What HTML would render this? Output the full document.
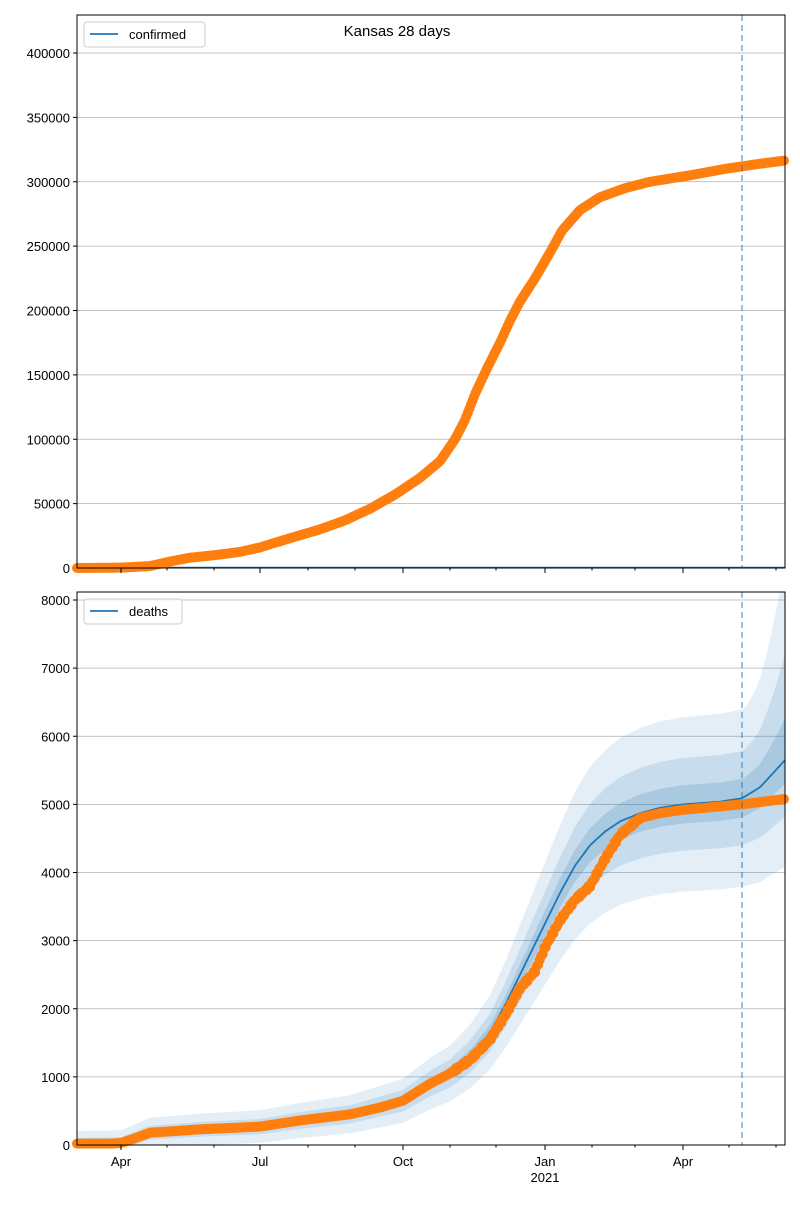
<!DOCTYPE html>
<html><head><meta charset="utf-8"><style>
body{margin:0;background:#fff;}
svg text{font-family:"Liberation Sans","DejaVu Sans",sans-serif;}
</style></head><body>
<svg id="s" width="800" height="1200" xmlns="http://www.w3.org/2000/svg"></svg>
<script>
const S=document.getElementById('s');let h='';
const X0=77,X1=785;
const T0=15,TB=568,B0=592,BB=1145;
const ty=v=>568-v*515/400000;
const by=v=>1145-v*0.068125;
function interp(pts,x){for(let i=1;i<pts.length;i++){if(x<=pts[i][0]){const a=pts[i-1],b=pts[i];const t=(x-a[0])/(b[0]-a[0]);return a[1]+t*(b[1]-a[1]);}}return pts[pts.length-1][1];}
const conf=[[77,0],[121,300],[150,1500],[170,5000],[190,8000],[215,10000],[240,12500],[260,16000],[285,22000],[320,30000],[345,37000],[370,46000],[395,57000],[420,70000],[440,83000],[455,100000],[465,115000],[475,135000],[487,155000],[500,175000],[510,192000],[520,207000],[535,225000],[550,245000],[562,262000],[580,278000],[600,288000],[625,295000],[650,300000],[690,305000],[725,310000],[760,314000],[785,316500]];
const dth=[[77,20],[110,20],[121,30],[135,100],[150,180],[200,230],[260,270],[300,360],[350,450],[380,550],[403,650],[430,900],[450,1050],[470,1250],[490,1550],[505,1900],[520,2300],[535,2550],[545,2900],[560,3300],[575,3600],[590,3800],[605,4200],[620,4550],[640,4800],[660,4870],[683,4920],[742,5000],[785,5080]];
const mdl=[[77,20],[121,30],[150,180],[200,230],[260,270],[300,360],[350,450],[403,650],[430,900],[450,1050],[470,1300],[490,1650],[505,2050],[520,2500],[535,2950],[545,3250],[560,3700],[575,4100],[590,4400],[605,4600],[620,4750],[640,4870],[660,4950],[683,5000],[720,5040],[742,5090],[760,5250],[785,5650]];
for(let v=0;v<=400000;v+=50000){const y=ty(v);h+=`<line x1="${X0}" x2="${X1}" y1="${y}" y2="${y}" stroke="#b0b0b0" stroke-width="0.8"/><line x1="${X0-4}" x2="${X0}" y1="${y}" y2="${y}" stroke="#000"/><text x="${X0-7}" y="${y+5}" font-size="13" text-anchor="end">${v}</text>`;}
for(let v=0;v<=8000;v+=1000){const y=by(v);h+=`<line x1="${X0}" x2="${X1}" y1="${y}" y2="${y}" stroke="#b0b0b0" stroke-width="0.8"/><line x1="${X0-4}" x2="${X0}" y1="${y}" y2="${y}" stroke="#000"/><text x="${X0-7}" y="${y+5}" font-size="13" text-anchor="end">${v}</text>`;}
function band(k,c,grow,col,op){let top=[],bot=[];for(let x=X0;x<=X1;x+=2){const v=interp(mdl,x);let w=k*v+c;let up=w,dn=w;if(x>742){const g=(x-742)/43;up=w+grow*g*g;dn=w*(1+g*0.1);}top.push(`${x},${by(v+up)}`);bot.unshift(`${x},${by(Math.max(0,v-dn))}`);}
h+=`<polygon points="${top.join(' ')} ${bot.join(' ')}" fill="${col}" fill-opacity="${op}"/>`;}
h+=`<clipPath id="c"><rect x="${X0}" y="${B0}" width="${X1-X0}" height="${BB-B0}"/></clipPath><g clip-path="url(#c)">`;
band(0.22,180,1500,'#1f77b4',0.12);band(0.12,80,800,'#1f77b4',0.15);band(0.05,30,300,'#1f77b4',0.18);
let p=[];for(let x=X0;x<=X1;x+=2)p.push(`${x},${by(interp(mdl,x))}`);
h+=`<polyline points="${p.join(' ')}" fill="none" stroke="#1f77b4" stroke-width="1.8"/></g>`;
h+=`<line x1="${X0}" x2="${X1}" y1="567.5" y2="567.5" stroke="#1f77b4" stroke-width="1.5"/>`;
for(let x=X0;x<=X1+0.1;x+=1.527){h+=`<circle cx="${x}" cy="${ty(interp(conf,x))}" r="5" fill="#ff7f0e"/><circle cx="${x}" cy="${by(interp(dth,x)+(Math.sin(x*1.7)*20*(x>450&&x<640?1:0)))}" r="5" fill="#ff7f0e"/>`;}
for(const [a,b] of [[T0,TB],[B0,BB]])h+=`<line x1="742" x2="742" y1="${a}" y2="${b}" stroke="#1f77b4" stroke-opacity="0.6" stroke-width="1.5" stroke-dasharray="6,4"/>`;
for(const [a,b] of [[T0,TB],[B0,BB]]){h+=`<rect x="${X0}" y="${a}" width="${X1-X0}" height="${b-a}" fill="none" stroke="#000" stroke-width="1"/>`;}
const maj={121:'Apr',260:'Jul',403:'Oct',545:'Jan',683:'Apr'};
const mon=[121,167,214,260,308,355,403,450,496,545,592,635,683,729,776];
for(const [a,b] of [[T0,TB],[B0,BB]]){for(const m of mon){const L=maj[m]?5:2.5;h+=`<line x1="${m}" x2="${m}" y1="${b}" y2="${b+L}" stroke="#000"/>`;}}
for(const m in maj)h+=`<text x="${m}" y="1166" font-size="13" text-anchor="middle">${maj[m]}</text>`;
h+=`<text x="545" y="1182" font-size="13" text-anchor="middle">2021</text>`;
h+=`<text x="397" y="36" font-size="15" text-anchor="middle">Kansas 28 days</text>`;
h+=`<rect x="84" y="22" width="121" height="25" rx="3" fill="#fff" fill-opacity="0.8" stroke="#ccc"/><line x1="90" x2="118" y1="34" y2="34" stroke="#1f77b4" stroke-width="1.8"/><text x="129" y="39" font-size="13">confirmed</text>`;
h+=`<rect x="84" y="599" width="98" height="25" rx="3" fill="#fff" fill-opacity="0.8" stroke="#ccc"/><line x1="90" x2="118" y1="611" y2="611" stroke="#1f77b4" stroke-width="1.8"/><text x="129" y="616" font-size="13">deaths</text>`;
S.innerHTML=h;
</script>
</body></html>
